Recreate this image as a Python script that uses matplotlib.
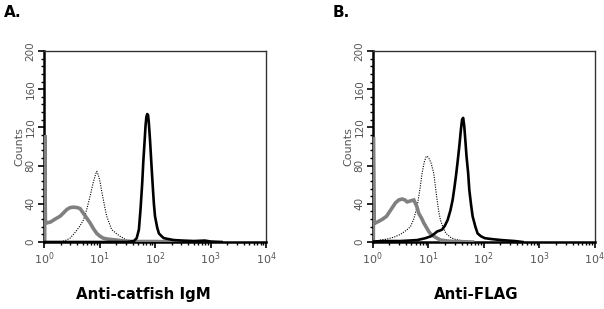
import numpy as np
import matplotlib.pyplot as plt
from matplotlib.ticker import LogLocator, MultipleLocator, FixedLocator

# log10 of fluorescence intensity and counts
a_gray_x = [0.012, 0.012, 0.025, 0.05, 0.12, 0.2, 0.29, 0.36, 0.41, 0.47, 0.53, 0.6, 0.65, 0.71, 0.77,
            0.83, 0.89, 0.95, 1.01, 1.07, 1.15, 1.31, 1.45, 1.6, 2.0, 2.5]
a_gray_y = [0, 112, 22, 20, 21, 24, 27, 31, 34, 36, 36.5, 36, 35, 30, 25,
            20, 14, 9, 6, 4, 3, 2, 1, 0.5, 0.5, 0]
a_dot_x = [0.3, 0.4, 0.47, 0.53, 0.6, 0.65, 0.71, 0.77, 0.83, 0.89, 0.93, 0.95, 0.98, 1.01,
           1.04, 1.07, 1.1, 1.13, 1.18, 1.22, 1.3, 1.37, 1.43, 1.49, 1.55, 1.61, 1.7]
a_dot_y = [0, 2, 4, 8, 13, 17, 23, 34, 48, 63, 71, 74, 70, 63,
           53, 44, 35, 27, 19, 13, 9, 6, 4, 2, 1.5, 1, 0]
a_blk_x = [0.0, 1.5, 1.62, 1.67, 1.71, 1.74, 1.77, 1.79, 1.81, 1.83, 1.845, 1.86, 1.875, 1.89,
           1.91, 1.935, 1.96, 1.98, 2.0, 2.04, 2.07, 2.12, 2.16, 2.25, 2.34, 2.5, 2.7, 2.9, 3.0, 3.2]
a_blk_y = [0, 0, 1, 4, 13, 35, 62, 85, 103, 122, 131, 134, 133, 124,
           107, 82, 58, 40, 27, 15, 9, 6, 4, 3, 2, 1.5, 1, 1.5, 0.5, 0]

b_gray_x = [0.012, 0.012, 0.025, 0.05, 0.12, 0.18, 0.25, 0.33, 0.41, 0.47, 0.53, 0.58, 0.62, 0.68, 0.74,
            0.79, 0.83, 0.88, 0.92, 0.97, 1.01, 1.05, 1.1, 1.16, 1.22, 1.35, 1.5, 1.8]
b_gray_y = [0, 110, 22, 20, 22, 24, 27, 34, 41, 44, 45, 44, 42, 43, 44,
            38, 30, 25, 20, 15, 11, 8, 6, 4, 2, 1, 0.5, 0]
b_dot_x = [0.05, 0.13, 0.25, 0.38, 0.5, 0.6, 0.68, 0.74, 0.8, 0.85, 0.89, 0.93, 0.96, 0.98,
           1.01, 1.05, 1.1, 1.13, 1.16, 1.19, 1.22, 1.27, 1.32, 1.4, 1.47, 1.6, 1.71]
b_dot_y = [0, 2, 3, 5, 8, 12, 16, 24, 37, 55, 72, 84, 89, 90,
           88, 83, 72, 58, 44, 32, 23, 15, 9, 5, 3, 1.5, 0]
b_blk_x = [0.0, 0.2, 0.5, 0.8, 0.95, 1.05, 1.12, 1.16, 1.21, 1.25, 1.3, 1.35, 1.4, 1.44, 1.47,
           1.5, 1.53, 1.56, 1.59, 1.61, 1.63, 1.65, 1.67, 1.69, 1.72, 1.74, 1.77, 1.8, 1.85,
           1.89, 1.95, 2.02, 2.15, 2.32, 2.56, 2.7]
b_blk_y = [0.5, 1, 1, 2, 4, 6, 9, 11, 12, 13, 17, 23, 33, 44, 56,
           69, 84, 100, 118, 128, 130, 121, 106, 90, 72, 55, 40, 27, 16,
           9, 6, 4, 3, 2, 1, 0]

panels = [
    ("A.", "Anti-catfish IgM", a_gray_x, a_gray_y, a_dot_x, a_dot_y, a_blk_x, a_blk_y),
    ("B.", "Anti-FLAG", b_gray_x, b_gray_y, b_dot_x, b_dot_y, b_blk_x, b_blk_y),
]
lefts = [44 / 604, 372.7 / 604]
label_x = [0.448, 0.465]

fig = plt.figure(figsize=(6.04, 3.09), dpi=100)
fig.patch.set_facecolor("white")

tick_grey = "#555555"

for i, (letter, label, gx, gy, dx, dy, kx, ky) in enumerate(panels):
    ax = fig.add_axes([lefts[i], 67 / 309, 222 / 604, 191 / 309])
    ax.plot(10 ** np.array(dx), dy, color="black", lw=0.8, ls=(0, (1, 1.2)), zorder=2)
    ax.plot(10 ** np.array(gx), gy, color="#808080", lw=2.6, zorder=3, solid_joinstyle="miter")
    ax.plot(10 ** np.array(kx), ky, color="black", lw=1.9, zorder=4)

    ax.set_xscale("log")
    ax.set_xlim(1, 1e4)
    ax.set_ylim(0, 200)
    ax.xaxis.set_major_locator(LogLocator(base=10, numticks=10))
    ax.xaxis.set_minor_locator(LogLocator(base=10, subs=np.arange(2, 10), numticks=20))
    ax.yaxis.set_major_locator(FixedLocator([0, 40, 80, 120, 160, 200]))
    ax.yaxis.set_minor_locator(MultipleLocator(8))

    for s in ["left", "bottom"]:
        ax.spines[s].set_linewidth(1.8)
        ax.spines[s].set_color("black")
    for s in ["top", "right"]:
        ax.spines[s].set_linewidth(1.0)
        ax.spines[s].set_color("#333333")

    ax.tick_params(axis="both", which="major", direction="out", length=4, width=1.2,
                   color="black", labelcolor=tick_grey, labelsize=8, pad=2)
    ax.tick_params(axis="both", which="minor", direction="out", length=2.5, width=1.0,
                   color="black")
    for t in ax.get_yticklabels():
        t.set_rotation(90)
        t.set_va("center")
        t.set_fontsize(7.5)
    ax.set_ylabel("Counts", color=tick_grey, fontsize=8, labelpad=1)

    ax.text(-0.18, 1.2, letter, transform=ax.transAxes, fontsize=11, fontweight="bold",
            ha="left", va="center")
    ax.text(label_x[i], -0.277, label, transform=ax.transAxes, fontsize=10.8, fontweight="bold",
            ha="center", va="center")

fig.savefig("out.png", dpi=100)
